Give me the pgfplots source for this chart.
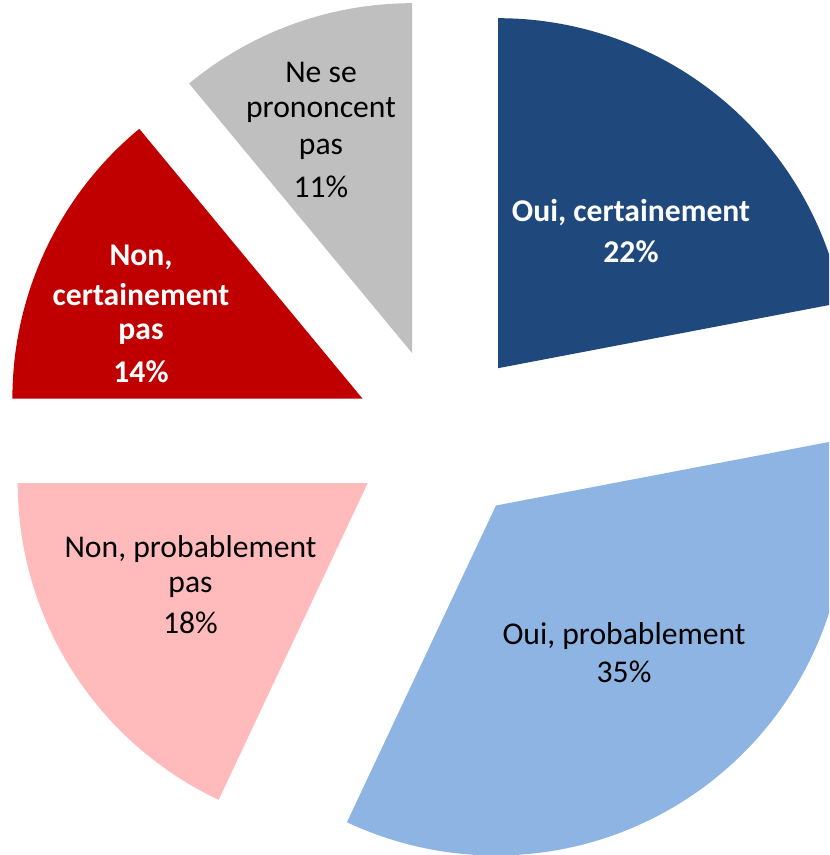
\documentclass[border=0pt]{standalone}
\usepackage{pgfplots}
\pgfplotsset{compat=1.18}
\usepackage{fontspec}
\setmainfont{Carlito}
\definecolor{cOuiC}{HTML}{1F497D}
\definecolor{cOuiP}{HTML}{8DB4E2}
\definecolor{cNonP}{HTML}{FFBBBB}
\definecolor{cNonC}{HTML}{C00000}
\definecolor{cNsp}{HTML}{BFBFBF}
% pie geometry (pixel units of the picture)
\def\cx{442}\def\cy{-436}\def\ex{88}\def\R{350}
% data: shares in percent, clockwise from 12 o'clock
\def\vOuiC{22}\def\vOuiP{35}\def\vNonP{18}\def\vNonC{14}\def\vNsp{11}
\pgfmathsetmacro\aA{90}
\pgfmathsetmacro\aB{\aA-3.6*\vOuiC}
\pgfmathsetmacro\aC{\aB-3.6*\vOuiP}
\pgfmathsetmacro\aD{\aC-3.6*\vNonP}
\pgfmathsetmacro\aE{\aD-3.6*\vNonC}
\pgfmathsetmacro\aF{\aE-3.6*\vNsp}
\newcommand\slice[3]{%
  \pgfmathsetmacro\mid{(#1+#2)/2}%
  \pgfmathsetmacro\ox{\cx+\ex*cos(\mid)}%
  \pgfmathsetmacro\oy{\cy+\ex*sin(\mid)}%
  \edef\temp{\noexpand\addplot[fill=#3, draw=none, domain=#2:#1, samples=120]
    ({\ox+\R*cos(x)},{\oy+\R*sin(x)}) -- (axis cs:\ox,\oy) -- cycle;}%
  \temp
}
\newcommand\fb{\fontsize{9}{10.8}\selectfont\bfseries}
\newcommand\fr{\fontsize{9}{10.8}\selectfont}
\begin{document}
\begin{tikzpicture}
\useasboundingbox (0,0) rectangle (8.29cm,8.55cm);
\begin{axis}[scale only axis, width=8.29cm, height=8.55cm,
  xmin=0, xmax=829, ymin=-855, ymax=0, hide axis, clip=true,
  every node/.append style={inner sep=0pt, anchor=base}]
\slice{\aA}{\aB}{cOuiC}
\slice{\aB}{\aC}{cOuiP}
\slice{\aC}{\aD}{cNonP}
\slice{\aD}{\aE}{cNonC}
\slice{\aE}{\aF}{cNsp}
% labels
\node[text=white, font=\fb] at (axis cs:631,-213) {Oui, certainement};
\node[text=white, font=\fb] at (axis cs:631,-252) {22\%};
\node[text=black, font=\fr] at (axis cs:624,-636) {Oui, probablement};
\node[text=black, font=\fr] at (axis cs:624,-672) {35\%};
\node[text=black, font=\fr] at (axis cs:190.5,-549) {Non, probablement};
\node[text=black, font=\fr] at (axis cs:190.5,-587) {pas};
\node[text=black, font=\fr] at (axis cs:190.5,-623) {18\%};
\node[text=white, font=\fb] at (axis cs:141,-257) {Non,};
\node[text=white, font=\fb] at (axis cs:141,-295) {certainement};
\node[text=white, font=\fb] at (axis cs:141,-334) {pas};
\node[text=white, font=\fb] at (axis cs:141,-372) {14\%};
\node[text=black, font=\fr] at (axis cs:321,-72) {Ne se};
\node[text=black, font=\fr] at (axis cs:321,-110) {prononcent};
\node[text=black, font=\fr] at (axis cs:321,-149) {pas};
\node[text=black, font=\fr] at (axis cs:321,-187) {11\%};
\end{axis}
\end{tikzpicture}
\end{document}
